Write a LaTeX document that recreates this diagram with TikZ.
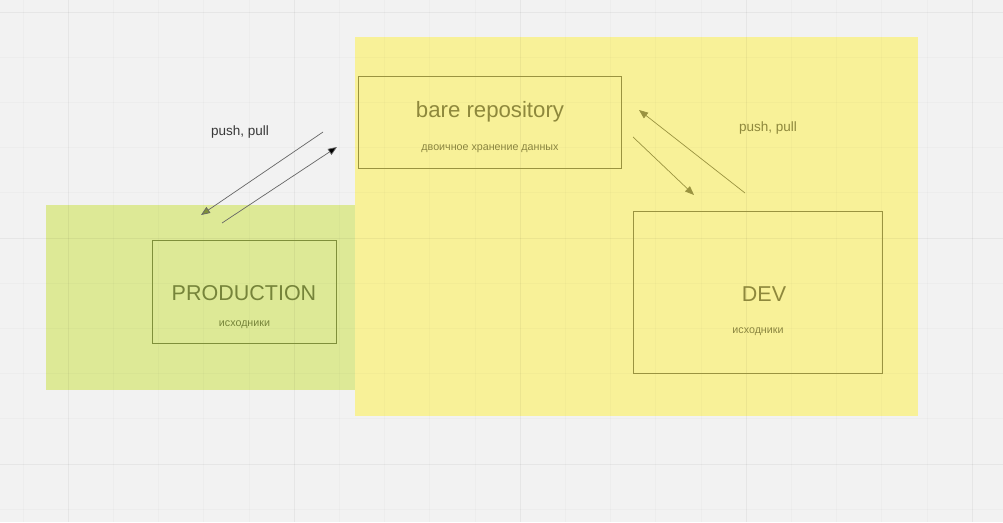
\documentclass[tikz,border=0pt]{standalone}
\usepackage{fontspec}
\setmainfont{Liberation Sans}
\usetikzlibrary{arrows.meta}

\definecolor{canvasbg}{HTML}{F2F2F2}
\definecolor{prodfill}{HTML}{DDE996}
\definecolor{devfill}{HTML}{F8F198}
\definecolor{prodline}{HTML}{7F8F3A}
\definecolor{devline}{HTML}{9A9340}
\definecolor{prodtext}{HTML}{76843A}
\definecolor{devtext}{HTML}{8E883C}
\definecolor{subtext}{HTML}{8A8540}

\tikzset{
  boxframe/.style={draw, line width=0.8pt, inner sep=0pt},
  bigtext/.style={inner sep=0pt, font=\fontsize{21.5}{26}\selectfont},
  smalltext/.style={inner sep=0pt, font=\fontsize{10.7}{12}\selectfont},
  pushtext/.style={inner sep=0pt, font=\fontsize{13.5}{16}\selectfont},
  syncarrow/.style={line width=0.7pt, -{Triangle[length=9pt,width=7pt]}},
}

\begin{document}
\begin{tikzpicture}[x=1pt, y=-1pt]
  % canvas
  \fill[canvasbg] (0,0) rectangle (1003,522);

  %% ==== areas ====
  \fill[prodfill] (46,205) rectangle (355,390);
  \fill[devfill] (355,37) rectangle (918,416);

  %% ==== grid (over the areas, faint) ====
  \foreach \k in {0,...,22} {
    \pgfmathsetmacro{\gx}{23+45.2*\k}
    \draw[black, opacity=0.018, line width=0.8pt] (\gx,0) -- (\gx,522);
  }
  \foreach \k in {0,...,11} {
    \pgfmathsetmacro{\gy}{12+45.2*\k}
    \draw[black, opacity=0.018, line width=0.8pt] (0,\gy) -- (1003,\gy);
  }
  \foreach \gx in {68,294,520,746,972}
    \draw[black, opacity=0.028, line width=1pt] (\gx,0) -- (\gx,522);
  \foreach \gy in {12,238,464}
    \draw[black, opacity=0.028, line width=1pt] (0,\gy) -- (1003,\gy);

  %% ==== boxes ====
  \node[boxframe, draw=devline, minimum width=263pt, minimum height=92pt] (bare) at (489.5,122) {};
  \node[boxframe, draw=prodline, minimum width=184pt, minimum height=103pt] (prod) at (244,291.5) {};
  \node[boxframe, draw=devline, minimum width=249pt, minimum height=162pt] (dev) at (757.5,292) {};

  %% ==== labels ====
  \node[bigtext, text=devtext, font=\fontsize{22.2}{26}\selectfont] (baretitle) at (490,112) {bare repository};
  \node[smalltext, text=subtext] (baresub) at (490,149) {двоичное хранение данных};
  \node[bigtext, text=prodtext] (prodtitle) at (244,293) {PRODUCTION};
  \node[smalltext, text=prodtext] (prodsub) at (244.5,325) {исходники};
  \node[bigtext, text=devtext] (devtitle) at (764,294) {DEV};
  \node[smalltext, text=subtext] (devsub) at (758,331.5) {исходники};
  \node[pushtext, text=black!78] (pushprod) at (240,132.5) {push, pull};
  \node[pushtext, text=devtext] (pushdev) at (768,128.5) {push, pull};

  %% ==== connector ends ====
  \coordinate (pullfrom) at (323,132);
  \coordinate (pullto) at (201,215);
  \coordinate (pushfrom) at (222,223);
  \coordinate (pushto) at (337,147);
  \coordinate (devpushfrom) at (745,193);
  \coordinate (devpushto) at (639,110);
  \coordinate (devpullfrom) at (633,137);
  \coordinate (devpullto) at (694,195);

  %% ==== arrows ====
  \draw[syncarrow, draw=black!60, -{Triangle[length=9pt,width=7pt,fill=prodline]}] (pullfrom) -- (pullto);
  \draw[syncarrow, draw=black!60, -{Triangle[length=9pt,width=7pt,fill=black]}] (pushfrom) -- (pushto);
  \draw[syncarrow, draw=devline] (devpushfrom) -- (devpushto);
  \draw[syncarrow, draw=devline] (devpullfrom) -- (devpullto);

  \pgfresetboundingbox
  \path[use as bounding box] (0,0) rectangle (1003,522);
\end{tikzpicture}
\end{document}
